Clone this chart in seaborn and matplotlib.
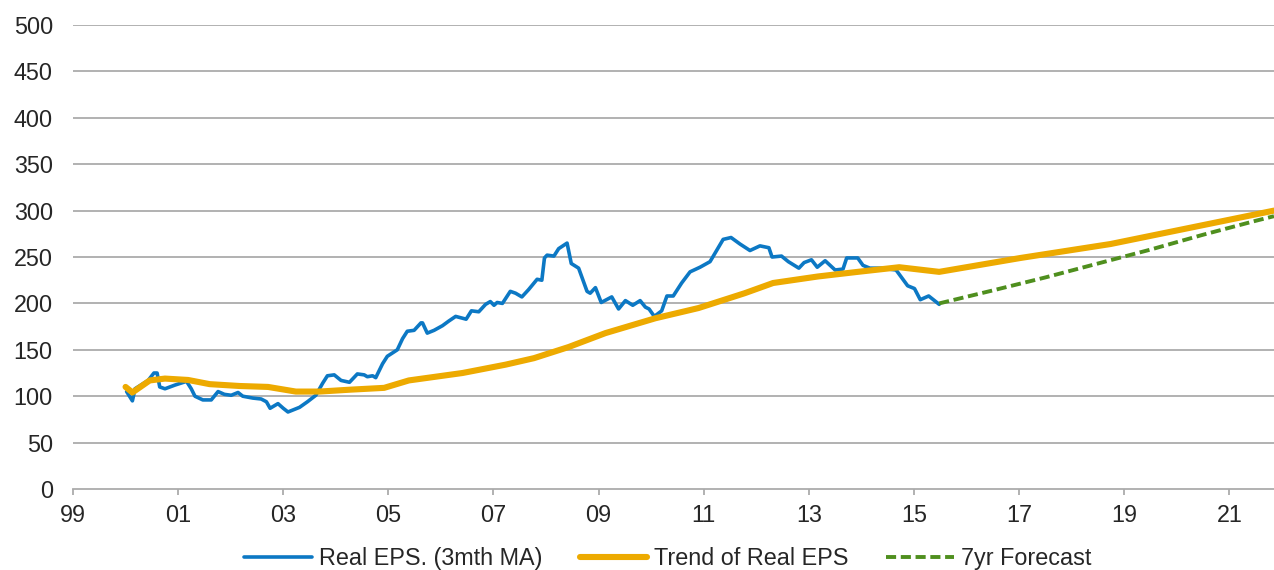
import matplotlib
matplotlib.use("Agg")
import matplotlib.pyplot as plt
import seaborn as sns
import pandas as pd

# ------------------------------
# DATA (decimal years)
# ------------------------------

eps_years = [2000.02, 2000.13, 2000.18, 2000.43, 2000.54, 2000.60, 2000.65, 2000.75, 2000.94,
             2001.16, 2001.25, 2001.32, 2001.47, 2001.63, 2001.76, 2001.88, 2002.01, 2002.14,
             2002.23, 2002.42, 2002.58, 2002.68, 2002.75, 2002.90, 2003.00, 2003.09, 2003.31,
             2003.46, 2003.62, 2003.75, 2003.84, 2003.97, 2004.10, 2004.26, 2004.41, 2004.54,
             2004.60, 2004.70, 2004.76, 2004.89, 2004.98, 2005.17, 2005.27, 2005.36, 2005.49,
             2005.62, 2005.65, 2005.74, 2005.87, 2006.03, 2006.15, 2006.28, 2006.48, 2006.58,
             2006.72, 2006.85, 2006.94, 2007.01, 2007.07, 2007.17, 2007.32, 2007.42, 2007.54,
             2007.67, 2007.83, 2007.92, 2007.97, 2008.02, 2008.15, 2008.24, 2008.40, 2008.48,
             2008.62, 2008.78, 2008.84, 2008.94, 2009.05, 2009.25, 2009.38, 2009.51, 2009.65,
             2009.79, 2009.89, 2009.96, 2010.06, 2010.20, 2010.30, 2010.42, 2010.58, 2010.74,
             2010.93, 2011.12, 2011.37, 2011.52, 2011.69, 2011.88, 2012.07, 2012.24, 2012.30,
             2012.48, 2012.61, 2012.81, 2012.91, 2013.05, 2013.16, 2013.31, 2013.50, 2013.65,
             2013.72, 2013.93, 2014.03, 2014.16, 2014.38, 2014.66, 2014.88, 2015.01, 2015.12,
             2015.28, 2015.48]
eps_values = [105, 95, 108, 117, 125, 125, 110, 108, 112,
              116, 108, 100, 96, 96, 105, 102, 101, 104,
              100, 98, 97, 94, 87, 92, 87, 83, 88,
              94, 101, 114, 122, 123, 117, 115, 124, 123,
              121, 122, 120, 135, 143, 150, 162, 170, 171,
              179, 179, 168, 171, 176, 181, 186, 183, 192,
              191, 199, 202, 198, 201, 200, 213, 211, 207,
              215, 226, 225, 249, 252, 251, 259, 265, 243,
              238, 213, 211, 217, 201, 207, 194, 203, 198,
              203, 196, 194, 186, 192, 208, 208, 222, 234,
              239, 245, 269, 271, 264, 257, 262, 260, 250,
              251, 245, 238, 244, 247, 239, 246, 236, 237,
              249, 249, 241, 238, 238, 236, 219, 216, 204,
              208, 199]

trend_years = [2000.0, 2000.13, 2000.46, 2000.75, 2001.19, 2001.60, 2002.17, 2002.71, 2003.24,
               2003.69, 2004.26, 2004.92, 2005.39, 2006.41, 2007.23, 2007.77, 2008.43, 2009.13,
               2010.08, 2010.90, 2011.78, 2012.32, 2013.17, 2013.93, 2014.72, 2015.48, 2017.03,
               2018.74, 2021.85]
trend_values = [110, 104, 117, 119, 117.5, 113, 111, 110, 105,
                105, 107, 109, 117, 125, 134, 141, 153, 168,
                184, 195, 211, 222, 229, 234, 239, 234, 249,
                264, 300]

fc_years = [2015.48, 2016.5, 2017.5, 2018.5, 2019.5, 2020.5, 2021.5, 2021.85]
fc_values = [200, 214, 228, 243, 258, 274, 289, 294]

x_ticks = [1999, 2001, 2003, 2005, 2007, 2009, 2011, 2013, 2015, 2017, 2019, 2021]
x_labels = ["99", "01", "03", "05", "07", "09", "11", "13", "15", "17", "19", "21"]
y_ticks = list(range(0, 501, 50))

df_eps = pd.DataFrame({"year": eps_years, "eps": eps_values})
df_trend = pd.DataFrame({"year": trend_years, "eps": trend_values})
df_fc = pd.DataFrame({"year": fc_years, "eps": fc_values})

# ------------------------------
# PLOT
# ------------------------------

sns.set_style("white")
plt.rcParams["font.family"] = ["Liberation Sans", "DejaVu Sans"]

fig = plt.figure(figsize=(12.74, 5.70), dpi=100)
ax = fig.add_axes([0.0573, 0.1421, 0.9427, 0.814])

grid_col = "#ABABAB"
for v in y_ticks[1:]:
    ax.axhline(v, color=grid_col, lw=1.3, zorder=0)

sns.lineplot(data=df_eps, x="year", y="eps", ax=ax, color="#0C78C4", linewidth=2.6,
             sort=False, label="Real EPS. (3mth MA)")
sns.lineplot(data=df_trend, x="year", y="eps", ax=ax, color="#EDAA00", linewidth=4.4,
             sort=False, label="Trend of Real EPS")
sns.lineplot(data=df_fc, x="year", y="eps", ax=ax, color="#4F8F1E", linewidth=2.8,
             sort=False, linestyle=(0, (2.6, 1.2)), label="7yr Forecast")

ax.set_xlim(1999, 2021.85)
ax.set_ylim(0, 500)
ax.set_xticks(x_ticks)
ax.set_xticklabels(x_labels)
ax.set_yticks(y_ticks)
ax.set_xlabel("")
ax.set_ylabel("")

for s in ["top", "right", "left"]:
    ax.spines[s].set_visible(False)
ax.spines["bottom"].set_color(grid_col)
ax.spines["bottom"].set_linewidth(1.3)

ax.tick_params(axis="x", length=4.5, width=1.3, color=grid_col, direction="out",
               labelsize=16.8, pad=6, bottom=True)
ax.tick_params(axis="y", length=0, labelsize=16.8, pad=14.5)

handles, labels = ax.get_legend_handles_labels()
ax.get_legend().remove()
fig.legend(handles, labels, loc="center", bbox_to_anchor=(0.524, 0.02), ncol=3,
           frameon=False, fontsize=16.8, handlelength=2.9, handletextpad=0.3,
           columnspacing=1.6)

plt.savefig("out.png", dpi=100)
